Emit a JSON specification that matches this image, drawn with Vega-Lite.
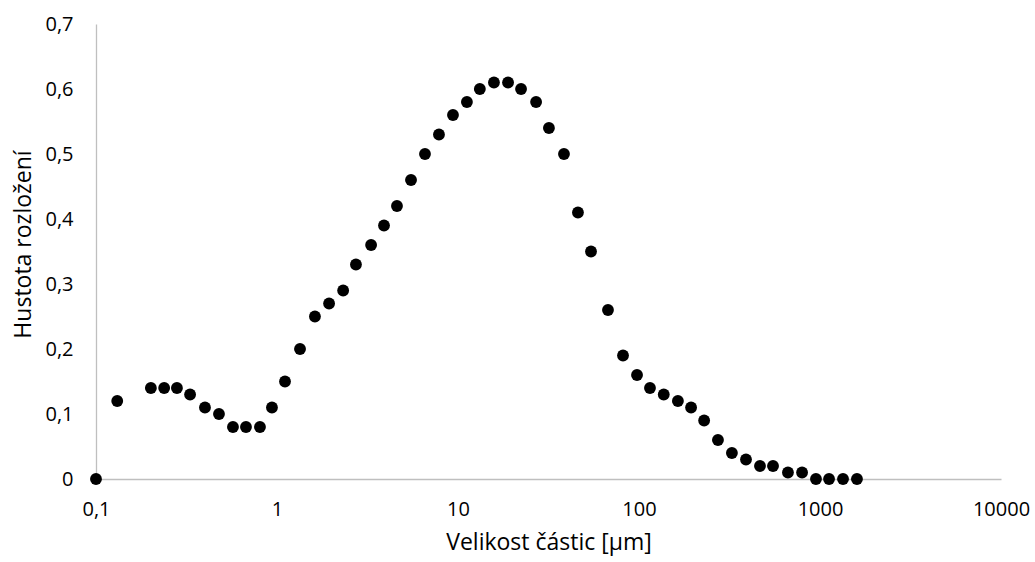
{
  "$schema": "https://vega.github.io/schema/vega-lite/v6.json",
  "width": 905,
  "height": 455,
  "autosize": {"type": "none"},
  "padding": {"left": 96, "top": 24, "right": 34, "bottom": 83},
  "background": "white",
  "config": {"view": {"stroke": null}, "font": "Open Sans"},
  "data": {
    "values": [
      {"size": 0.1, "density": 0.0},
      {"size": 0.131, "density": 0.12},
      {"size": 0.201, "density": 0.14},
      {"size": 0.238, "density": 0.14},
      {"size": 0.28, "density": 0.14},
      {"size": 0.331, "density": 0.13},
      {"size": 0.4, "density": 0.11},
      {"size": 0.478, "density": 0.1},
      {"size": 0.571, "density": 0.08},
      {"size": 0.674, "density": 0.08},
      {"size": 0.805, "density": 0.08},
      {"size": 0.938, "density": 0.11},
      {"size": 1.107, "density": 0.15},
      {"size": 1.34, "density": 0.2},
      {"size": 1.62, "density": 0.25},
      {"size": 1.94, "density": 0.27},
      {"size": 2.32, "density": 0.29},
      {"size": 2.73, "density": 0.33},
      {"size": 3.31, "density": 0.36},
      {"size": 3.9, "density": 0.39},
      {"size": 4.6, "density": 0.42},
      {"size": 5.5, "density": 0.46},
      {"size": 6.57, "density": 0.5},
      {"size": 7.85, "density": 0.53},
      {"size": 9.38, "density": 0.56},
      {"size": 11.2, "density": 0.58},
      {"size": 13.2, "density": 0.6},
      {"size": 15.8, "density": 0.61},
      {"size": 18.9, "density": 0.61},
      {"size": 22.3, "density": 0.6},
      {"size": 27.0, "density": 0.58},
      {"size": 31.8, "density": 0.54},
      {"size": 38.5, "density": 0.5},
      {"size": 46.0, "density": 0.41},
      {"size": 54.3, "density": 0.35},
      {"size": 67.4, "density": 0.26},
      {"size": 81.6, "density": 0.19},
      {"size": 97.5, "density": 0.16},
      {"size": 115, "density": 0.14},
      {"size": 137, "density": 0.13},
      {"size": 164, "density": 0.12},
      {"size": 194, "density": 0.11},
      {"size": 229, "density": 0.09},
      {"size": 273, "density": 0.06},
      {"size": 326, "density": 0.04},
      {"size": 390, "density": 0.03},
      {"size": 466, "density": 0.02},
      {"size": 550, "density": 0.02},
      {"size": 665, "density": 0.01},
      {"size": 796, "density": 0.01},
      {"size": 950, "density": 0.0},
      {"size": 1122, "density": 0.0},
      {"size": 1340, "density": 0.0},
      {"size": 1600, "density": 0.0}
    ]
  },
  "mark": {"type": "point", "shape": "circle", "filled": true, "color": "black", "opacity": 1, "size": 140},
  "encoding": {
    "x": {
      "field": "size",
      "type": "quantitative",
      "scale": {"type": "log", "domain": [0.1, 10000], "nice": false},
      "axis": {
        "title": "Velikost částic [μm]",
        "values": [0.1, 1, 10, 100, 1000, 10000],
        "labelExpr": "replace(toString(datum.value), '.', ',')",
        "grid": false,
        "ticks": false,
        "domainColor": "#bfbfbf",
        "domainWidth": 1.3,
        "labelFontSize": 20,
        "labelColor": "#000000",
        "labelPadding": 20,
        "labelFlush": false,
        "labelOverlap": false,
        "titleFontSize": 23,
        "titleFontWeight": "normal",
        "titleColor": "#000000",
        "titlePadding": 12
      }
    },
    "y": {
      "field": "density",
      "type": "quantitative",
      "scale": {"domain": [0, 0.7], "nice": false},
      "axis": {
        "title": "Hustota rozložení",
        "values": [0, 0.1, 0.2, 0.3, 0.4, 0.5, 0.6, 0.7],
        "labelExpr": "replace(format(datum.value, '.1~f'), '.', ',')",
        "grid": false,
        "ticks": false,
        "domainColor": "#bfbfbf",
        "domainWidth": 1.3,
        "labelFontSize": 20,
        "labelColor": "#000000",
        "labelPadding": 23,
        "labelFlush": false,
        "labelOverlap": false,
        "titleFontSize": 23,
        "titleFontWeight": "normal",
        "titleColor": "#000000",
        "titlePadding": 9,
        "titleY": 220
      }
    }
  }
}
